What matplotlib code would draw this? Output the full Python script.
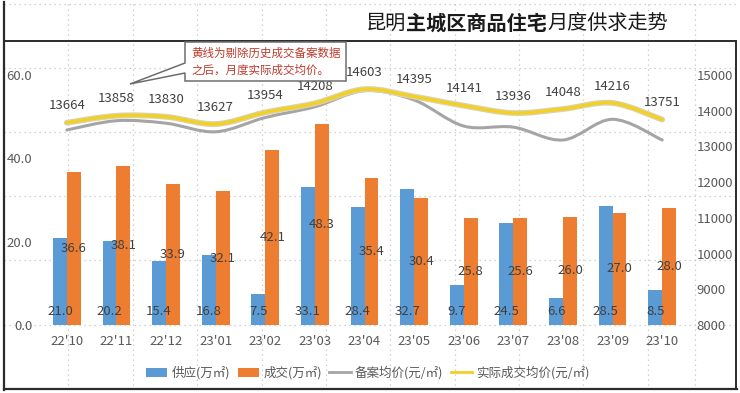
import matplotlib
matplotlib.use("Agg")
import matplotlib.pyplot as plt
from matplotlib.path import Path
from matplotlib.patches import PathPatch, Polygon, Patch
from matplotlib.lines import Line2D
import matplotlib.patheffects as pe
import numpy as np

plt.rcParams['font.family'] = ['Noto Sans CJK SC', 'DejaVu Sans']

# ---------------- data ----------------
months = ["22'10", "22'11", "22'12", "23'01", "23'02", "23'03", "23'04",
          "23'05", "23'06", "23'07", "23'08", "23'09", "23'10"]
supply = [21.0, 20.2, 15.4, 16.8, 7.5, 33.1, 28.4, 32.7, 9.7, 24.5, 6.6, 28.5, 8.5]
deal = [36.6, 38.1, 33.9, 32.1, 42.1, 48.3, 35.4, 30.4, 25.8, 25.6, 26.0, 27.0, 28.0]
filed_price = [13460, 13720, 13650, 13410, 13810, 14110, 14560, 14300, 13570, 13540, 13180, 13760, 13180]
actual_price = [13664, 13858, 13830, 13627, 13954, 14208, 14603, 14395, 14141, 13936, 14048, 14216, 13751]
left_ticks = [0, 20, 40, 60]
right_ticks = [8000, 9000, 10000, 11000, 12000, 13000, 14000, 15000]

title_parts = [("昆明", "normal"), ("主城区商品住宅", "bold"), ("月度供求走势", "normal")]
note_text = "黄线为剔除历史成交备案数据\n之后，月度实际成交均价。"
legend_labels = ["供应(万㎡)", "成交(万㎡)", "备案均价(元/㎡)", "实际成交均价(元/㎡)"]

C_BLUE = "#5B9BD5"
C_ORANGE = "#ED7D31"
C_GRAY = "#A5A5A5"
C_YELLOW = "#F2D024"
C_TXT = "#404040"
C_TICK = "#595959"

W, H = 740, 393
fig = plt.figure(figsize=(W / 100, H / 100), dpi=100)


def X(px):
    return px / W


def Y(py):
    return 1 - py / H


# ---------------- background paper grid ----------------
bg = fig.add_axes([0, 0, 1, 1], zorder=-10)
bg.set_xlim(0, W)
bg.set_ylim(H, 0)
bg.axis("off")
for yy in [4, 68, 132, 196, 260, 325]:
    bg.plot([4, 736], [yy, yy], color="#c4c4c4", lw=0.9, ls=(0, (1, 3)))
for xx in [68, 133, 197, 262, 326, 390, 455, 519, 583, 648, 695]:
    bg.plot([xx, xx], [4, 389], color="#c4c4c4", lw=0.9, ls=(0, (1, 3)))
# frame lines
bg.plot([4, 4], [2, 390], color="#2b2b2b", lw=1.6)
bg.plot([4, 737], [389, 389], color="#2b2b2b", lw=1.6)
bg.plot([736, 736], [41, 389], color="#2b2b2b", lw=1.4)
bg.plot([4, 736], [41, 41], color="#2b2b2b", lw=1.4)

# ---------------- main axes ----------------
ax = fig.add_axes([X(42), Y(325), X(687) - X(42), Y(75) - Y(325)])
ax.set_facecolor("none")
x = np.arange(len(months))
bw = 0.28
ax.bar(x - bw / 2, supply, bw, color=C_BLUE, zorder=2)
ax.bar(x + bw / 2, deal, bw, color=C_ORANGE, zorder=2)
ax.set_xlim(-0.5, len(months) - 0.5)
ax.set_ylim(0, 60)
ax.set_yticks(left_ticks)
ax.set_yticklabels([f"{v:.1f}" for v in left_ticks])
ax.set_xticks(x)
ax.set_xticklabels(months)
ax.tick_params(axis="both", length=0, colors=C_TICK, labelsize=9.5)
ax.tick_params(axis="x", pad=7)
ax.tick_params(axis="y", pad=7)
for s in ax.spines.values():
    s.set_visible(False)

for xi, v in zip(x, supply):
    ax.annotate(f"{v:.1f}", (xi - bw / 2, 0), xytext=(0, 9.5), textcoords="offset points",
                ha="center", va="center", fontsize=9.5, color=C_TXT, zorder=5)
for xi, v in zip(x, deal):
    ax.annotate(f"{v:.1f}", (xi + bw / 2, v / 2), ha="center", va="center",
                fontsize=9.5, color=C_TXT, zorder=5)

# ---------------- right axis ----------------
ax2 = ax.twinx()
ax2.set_ylim(8000, 15000)
ax2.set_yticks(right_ticks)
ax2.tick_params(axis="y", length=0, colors=C_TICK, labelsize=9.5, pad=7)
for s in ax2.spines.values():
    s.set_visible(False)


def smooth_path(xs, ys):
    pts = np.column_stack([xs, ys]).astype(float)
    n = len(pts)
    verts = [pts[0]]
    codes = [Path.MOVETO]
    for i in range(n - 1):
        p0 = pts[i - 1] if i > 0 else pts[i]
        p1 = pts[i]
        p2 = pts[i + 1]
        p3 = pts[i + 2] if i + 2 < n else pts[i + 1]
        c1 = p1 + (p2 - p0) / 6.0
        c2 = p2 - (p3 - p1) / 6.0
        verts += [c1, c2, p2]
        codes += [Path.CURVE4] * 3
    return Path(verts, codes)


gray_patch = PathPatch(smooth_path(x, filed_price), facecolor="none", edgecolor=C_GRAY,
                       lw=2.2, transform=ax2.transData, zorder=3, capstyle="round")
ax2.add_patch(gray_patch)
yel_patch = PathPatch(smooth_path(x, actual_price), facecolor="none", edgecolor=C_YELLOW,
                      lw=2.4, transform=ax2.transData, zorder=4, capstyle="round",
                      path_effects=[pe.Stroke(linewidth=4.2, foreground="#d9d3b0"), pe.Normal()])
ax2.add_patch(yel_patch)

for xi, v in zip(x, actual_price):
    ax2.annotate(f"{v}", (xi, v), xytext=(0, 7.5), textcoords="offset points",
                 ha="center", va="bottom", fontsize=9.5, color=C_TXT, zorder=6)

# ---------------- title ----------------
prev = fig.text(X(366), Y(34), title_parts[0][0], fontsize=14.5, fontweight=title_parts[0][1],
                color="#1a1a1a", ha="left", va="bottom")
for txt, wgt in title_parts[1:]:
    prev = fig.add_artist(matplotlib.text.Annotation(
        txt, xy=(1, 0), xycoords=prev, ha="left", va="bottom",
        fontsize=14.5, fontweight=wgt, color="#1a1a1a", annotation_clip=False))

# ---------------- callout ----------------
call = Polygon([[X(185), Y(42)], [X(346), Y(42)], [X(346), Y(81)], [X(185), Y(81)],
                [X(185), Y(73)], [X(130), Y(84)], [X(185), Y(63)]],
               closed=True, transform=fig.transFigure, facecolor="white",
               edgecolor="#6e6e6e", lw=1.1, zorder=20)
fig.patches.append(call)
fig.text(X(191), Y(61.5), note_text, fontsize=8.3, color="#C0392B", ha="left",
         va="center", linespacing=1.35, zorder=21)

# ---------------- legend ----------------
handles = [Patch(facecolor=C_BLUE), Patch(facecolor=C_ORANGE),
           Line2D([], [], color=C_GRAY, lw=2), Line2D([], [], color=C_YELLOW, lw=2)]
fig.legend(handles, legend_labels, loc="center", bbox_to_anchor=(X(368), Y(373)),
           ncol=4, frameon=False, fontsize=9, handlelength=1.7, handleheight=0.7,
           handletextpad=0.35, columnspacing=0.6, labelcolor=C_TICK)

fig.savefig("out.png", dpi=100)
